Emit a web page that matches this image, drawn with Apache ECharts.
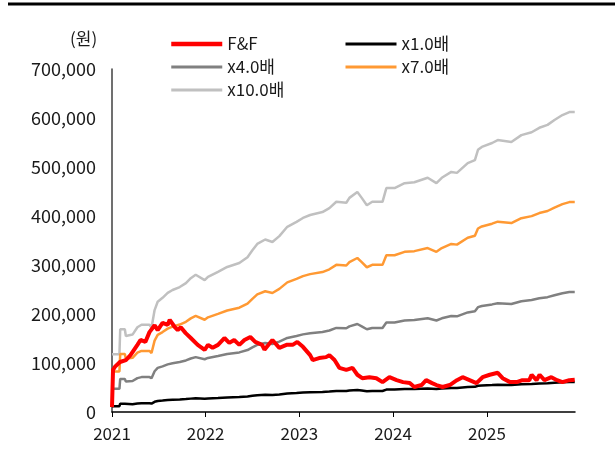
<!DOCTYPE html>
<html>
<head>
<meta charset="utf-8">
<script src="https://cdn.jsdelivr.net/npm/echarts@6/dist/echarts.min.js"></script>
<style>
html,body{margin:0;padding:0;background:#fff;}
#chart{width:615px;height:451px;}
</style>
</head>
<body>
<div id="chart"></div>
<script>
// ---- data ----
const unitLabel = '(원)';
const yTicks = [0, 100000, 200000, 300000, 400000, 500000, 600000, 700000];
const xYears = ['2021', '2022', '2023', '2024', '2025'];

const bandDates = [
  '2021-01-01','2021-01-30','2021-02-02','2021-02-20','2021-02-24','2021-03-22','2021-04-10','2021-04-26',
  '2021-05-27','2021-06-04','2021-06-16','2021-06-28','2021-07-17','2021-08-06','2021-08-25','2021-09-22',
  '2021-10-16','2021-11-04','2021-11-23','2021-12-28','2022-01-10','2022-02-18','2022-03-26','2022-05-12',
  '2022-06-13','2022-07-02','2022-07-21','2022-08-21','2022-09-18','2022-10-15','2022-11-15','2022-12-21',
  '2023-01-15','2023-02-12','2023-04-01','2023-04-28','2023-05-25','2023-07-03','2023-07-15','2023-08-15',
  '2023-09-01','2023-09-21','2023-10-12','2023-11-21','2023-12-06','2024-01-07','2024-02-15','2024-03-24',
  '2024-05-15','2024-06-18','2024-07-09','2024-08-15','2024-09-06','2024-10-18','2024-11-15','2024-11-27',
  '2024-12-12','2025-01-21','2025-02-12','2025-04-06','2025-05-15','2025-06-24','2025-07-24','2025-08-25',
  '2025-09-21','2025-10-22','2025-11-18','2025-12-09'
];

const x10 = [
  118000,118000,169000,169000,155000,158000,173000,178000,
  178000,172000,208000,225000,233000,243000,249000,255000,
  263000,273000,280000,269000,276000,286000,296000,304000,
  316000,330000,343000,352000,347000,359000,378000,388000,
  396000,402000,408000,416000,429000,427000,437000,449000,
  437000,422000,429000,429000,457000,457000,467000,469000,
  478000,467000,478000,490000,488000,508000,514000,535000,
  541000,549000,555000,551000,565000,571000,580000,586000,
  596000,606000,612000,612000
];

const x7 = [
  82600,82600,118300,118300,108500,110600,121100,124600,
  124600,120400,145600,157500,163100,170100,174300,178500,
  184100,191100,196000,188300,193200,200200,207200,212800,
  221200,231000,240100,246400,242900,251300,264600,271600,
  277200,281400,285600,291200,300300,298900,305900,314300,
  305900,295400,300300,300300,319900,319900,326900,328300,
  334600,326900,334600,343000,341600,355600,359800,374500,
  378700,384300,388500,385700,395500,399700,406000,410200,
  417200,424200,428400,428400
];

const x4 = [
  47200,47200,67600,67600,62000,63200,69200,71200,
  71200,68800,83200,90000,93200,97200,99600,102000,
  105200,109200,112000,107600,110400,114400,118400,121600,
  126400,132000,137200,140800,138800,143600,151200,155200,
  158400,160800,163200,166400,171600,170800,174800,179600,
  174800,168800,171600,171600,182800,182800,186800,187600,
  191200,186800,191200,196000,195200,203200,205600,214000,
  216400,219600,222000,220400,226000,228400,232000,234400,
  238400,242400,244800,244800
];

const x1 = [
  11800,11800,16900,16900,15500,15800,17300,17800,
  17800,17200,20800,22500,23300,24300,24900,25500,
  26300,27300,28000,26900,27600,28600,29600,30400,
  31600,33000,34300,35200,34700,35900,37800,38800,
  39600,40200,40800,41600,42900,42700,43700,44900,
  43700,42200,42900,42900,45700,45700,46700,46900,
  47800,46700,47800,49000,48800,50800,51400,53500,
  54100,54900,55500,55100,56500,57100,58000,58600,
  59600,60600,61200,61200
];

const ffDates = [
  '2021-01-01','2021-01-05','2021-01-12','2021-02-01','2021-02-24','2021-03-14','2021-04-10','2021-04-22',
  '2021-05-11','2021-05-27','2021-06-16','2021-06-28','2021-07-17','2021-08-06','2021-08-14','2021-09-03',
  '2021-09-14','2021-09-26','2021-10-15','2021-11-04','2021-12-01','2021-12-28','2022-01-10','2022-01-28',
  '2022-02-18','2022-03-15','2022-04-03','2022-04-22','2022-05-12','2022-06-01','2022-06-24','2022-07-13',
  '2022-08-09','2022-08-18','2022-08-25','2022-09-18','2022-10-15','2022-11-12','2022-12-06','2022-12-24',
  '2023-01-15','2023-02-12','2023-02-22','2023-03-19','2023-04-15','2023-04-28','2023-05-18','2023-06-06',
  '2023-07-03','2023-07-27','2023-08-15','2023-09-03','2023-10-01','2023-10-28','2023-11-21','2023-12-18',
  '2024-01-15','2024-02-09','2024-03-06','2024-03-24','2024-04-21','2024-05-09','2024-06-01','2024-06-18',
  '2024-07-12','2024-08-09','2024-09-06','2024-09-28','2024-10-25','2024-11-21','2024-12-15','2025-01-12',
  '2025-02-12','2025-03-03','2025-04-01','2025-04-27','2025-05-19','2025-06-15','2025-06-24','2025-07-13',
  '2025-07-25','2025-08-13','2025-09-09','2025-10-01','2025-10-22','2025-11-18','2025-12-09'
];

const ffValues = [
  10000,86000,92000,102000,106000,116000,137000,147000,
  143000,163000,177000,167000,182000,178000,188000,173000,
  167000,173000,161000,151000,137000,127000,137000,131000,
  137000,151000,141000,147000,137000,147000,153000,143000,
  137000,127000,131000,147000,131000,137000,137000,143000,
  133000,116000,106000,110000,112000,116000,106000,90000,
  86000,90000,76000,69000,71000,69000,61000,71000,
  65000,61000,59000,51000,55000,65000,59000,55000,
  51000,55000,65000,71000,65000,59000,71000,76000,
  80000,69000,61000,61000,65000,65000,76000,65000,
  76000,65000,71000,65000,61000,65000,66000
];

const seriesNames = ['F&F', 'x1.0배', 'x4.0배', 'x7.0배', 'x10.0배'];
const seriesColors = ['#ff0000', '#000000', '#808080', '#ff9933', '#c0c0c0'];

// ---- chart ----
const pair = (dates, vals) => dates.map((d, i) => [d, vals[i]]);
const FONT = '"Noto Sans CJK KR", "Noto Sans", sans-serif';
const chart = echarts.init(document.getElementById('chart'), null, {renderer: 'canvas'});

const bandValues = {'x1.0배': x1, 'x4.0배': x4, 'x7.0배': x7, 'x10.0배': x10};
const series = [];
['x10.0배', 'x7.0배', 'x4.0배', 'x1.0배'].forEach(name => {
  const idx = seriesNames.indexOf(name);
  series.push({
    name: name, type: 'line', showSymbol: false, symbol: 'none',
    data: pair(bandDates, bandValues[name]),
    lineStyle: {color: seriesColors[idx], width: 2.5},
    itemStyle: {color: seriesColors[idx]},
    animation: false
  });
});
series.push({
  name: 'F&F', type: 'line', showSymbol: false, symbol: 'none',
  data: pair(ffDates, ffValues),
  lineStyle: {color: seriesColors[0], width: 4},
  itemStyle: {color: seriesColors[0]},
  animation: false
});

const legendText = {fontFamily: FONT, fontSize: 17, color: '#1a1a1a', lineHeight: 18};
const legendBase = {orient: 'vertical', top: 30, itemWidth: 51, itemHeight: 14, itemGap: 5,
  itemStyle: {opacity: 0}, textStyle: legendText, selectedMode: false};

chart.setOption({
  backgroundColor: '#fff',
  animation: false,
  textStyle: {fontFamily: FONT},
  grid: {left: 112, right: 40, top: 69, bottom: 39},
  legend: [
    Object.assign({}, legendBase, {left: 164, data: [
      {name: seriesNames[0], lineStyle: {width: 4.5}},
      {name: seriesNames[2], lineStyle: {width: 3}},
      {name: seriesNames[4], lineStyle: {width: 3}}
    ]}),
    Object.assign({}, legendBase, {left: 339, data: [
      {name: seriesNames[1], lineStyle: {width: 3}},
      {name: seriesNames[3], lineStyle: {width: 3}}
    ]})
  ],
  graphic: [
    {type: 'line', shape: {x1: 8, y1: 4, x2: 615, y2: 4}, style: {stroke: '#000', lineWidth: 3}, silent: true},
    {type: 'text', left: 70, top: 30, style: {text: unitLabel, font: '17px ' + FONT, fill: '#1a1a1a'}}
  ],
  xAxis: {
    type: 'time',
    min: xYears[0] + '-01-01',
    max: '2025-12-10',
    splitNumber: 5,
    minInterval: 365 * 24 * 3600 * 1000,
    axisLine: {show: true, lineStyle: {color: '#000', width: 1.5}},
    axisTick: {show: true, length: 5, lineStyle: {color: '#000'}},
    splitLine: {show: false},
    axisLabel: {formatter: '{yyyy}', fontFamily: FONT, fontSize: 17, color: '#1a1a1a', margin: 13, showMaxLabel: false}
  },
  yAxis: {
    type: 'value',
    min: yTicks[0],
    max: yTicks[yTicks.length - 1],
    interval: yTicks[1] - yTicks[0],
    axisLine: {show: true, lineStyle: {color: '#404040', width: 1.5}},
    axisTick: {show: false},
    splitLine: {show: false},
    axisLabel: {formatter: v => v.toLocaleString('en-US'), fontFamily: FONT, fontSize: 18, color: '#1a1a1a', margin: 16}
  },
  series: series
});
</script>
</body>
</html>
